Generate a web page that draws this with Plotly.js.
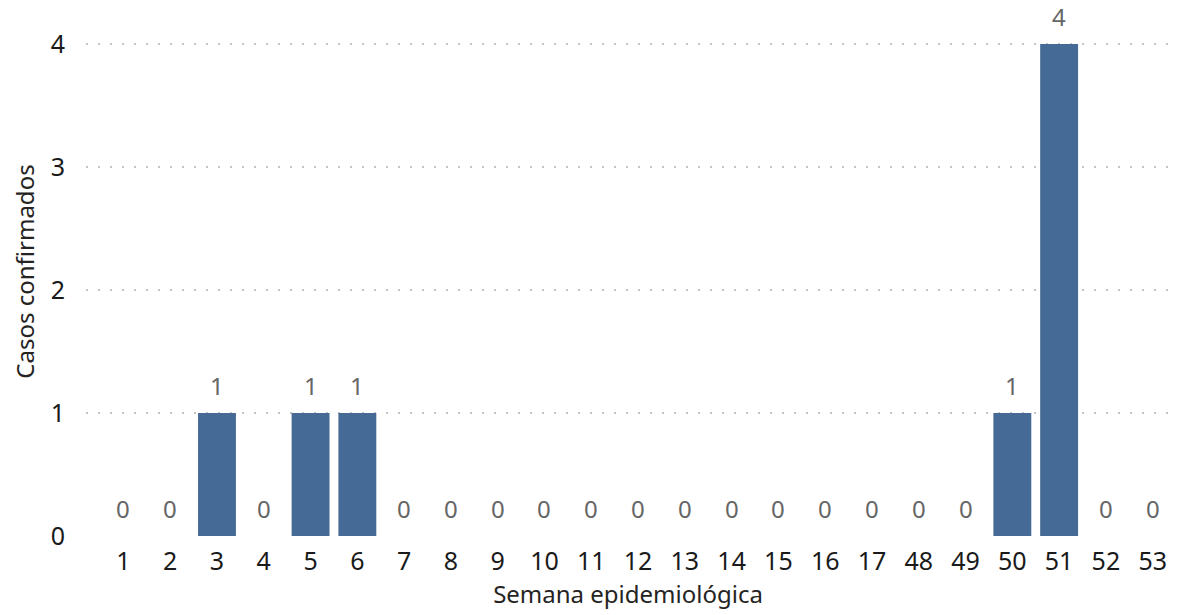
<!DOCTYPE html>
<html><head><meta charset="utf-8">
<script src="https://cdn.plot.ly/plotly-3.0.1.min.js"></script>
<style>html,body{margin:0;padding:0;background:#fff}#chart{width:1178px;height:615px}</style>
</head><body><div id="chart"></div>
<script>
const semanas = ['1','2','3','4','5','6','7','8','9','10','11','12','13','14','15','16','17','48','49','50','51','52','53'];
const casos = [0,0,1,0,1,1,0,0,0,0,0,0,0,0,0,0,0,0,0,1,4,0,0];
const yTicks = [0,1,2,3,4];

const FONT = 'Noto Sans, Open Sans, sans-serif';
const trace = {
  type: 'bar', x: semanas, y: casos,
  marker: {color: '#466A96'},
  hoverinfo: 'x+y'
};
const labels = semanas.map((s, i) => ({
  x: i, y: casos[i], xref: 'x', yref: 'y',
  text: String(casos[i]), showarrow: false,
  yanchor: 'bottom', yshift: 9,
  font: {family: FONT, size: 24, color: '#666666'}
}));
const layout = {
  width: 1178, height: 615,
  margin: {l: 86, r: 8, t: 7, b: 79},
  paper_bgcolor: '#fff', plot_bgcolor: '#fff',
  bargap: 0.19, showlegend: false,
  font: {family: FONT, color: '#000'},
  annotations: labels,
  xaxis: {
    type: 'category', range: [-0.8, 22.37],
    showgrid: false, zeroline: false, showline: false, ticks: '',
    ticklabelstandoff: 8,
    tickfont: {family: FONT, size: 25, color: '#1a1a1a'},
    title: {text: 'Semana epidemiológica', font: {family: FONT, size: 24, color: '#252423'}, standoff: 6}
  },
  yaxis: {
    range: [0, 4.3], tickvals: yTicks, ticktext: yTicks.map(String),
    showgrid: true, gridcolor: '#c4c4c4', griddash: '2px,10px', gridwidth: 1.5,
    zeroline: false, showline: false, ticks: '', ticklabelstandoff: 20,
    tickfont: {family: FONT, size: 25, color: '#1a1a1a'},
    title: {text: 'Casos confirmados', font: {family: FONT, size: 24, color: '#252423'}, standoff: 9}
  }
};
Plotly.newPlot('chart', [trace], layout, {displayModeBar: false, staticPlot: true});
</script></body></html>
